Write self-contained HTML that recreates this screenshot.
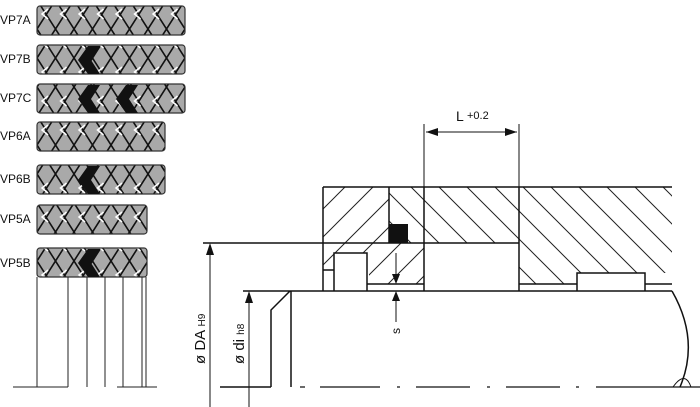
<!DOCTYPE html><html><head><style>body{margin:0;background:#fff}svg{display:block}</style></head><body>
<svg width="700" height="407" viewBox="0 0 700 407" xmlns="http://www.w3.org/2000/svg" font-family="Liberation Sans, sans-serif">
<defs>
<pattern id="hb" patternUnits="userSpaceOnUse" width="28" height="28"><path d="M-7,-7 L35,35 M-7,21 L7,35 M21,-7 L35,7" stroke="#222" stroke-width="1"/></pattern>
<pattern id="hf" patternUnits="userSpaceOnUse" width="28" height="28"><path d="M-7,35 L35,-7 M-7,7 L7,-7 M21,35 L35,21" stroke="#222" stroke-width="1"/></pattern>
<pattern id="sx" patternUnits="userSpaceOnUse" width="18.5" height="29" x="37"><rect width="18.5" height="29" fill="#a9a9a9"/><path d="M0,0 L18.5,29 M18.5,0 L0,29" stroke="#111" stroke-width="1.6"/><path d="M11,9 L5,14 L11,19" stroke="#fff" stroke-width="1.5" fill="none"/></pattern>
<g id="blk"><path d="M2,0 h12 l-9,14 l9,14 h-12 l-10,-14 z" fill="#111"/></g>
</defs>
<g font-size="12" fill="#111">
<text x="0" y="24">VP7A</text><text x="0" y="63">VP7B</text><text x="0" y="102">VP7C</text><text x="0" y="140">VP6A</text><text x="0" y="183">VP6B</text><text x="0" y="223">VP5A</text><text x="0" y="267">VP5B</text>
</g>
<g stroke="#333" stroke-width="1.2">
<rect x="37" y="6" width="148" height="29" rx="3" fill="url(#sx)"/>
<rect x="37" y="45" width="148" height="29" rx="3" fill="url(#sx)"/>
<rect x="37" y="84" width="148" height="29" rx="3" fill="url(#sx)"/>
<rect x="37" y="122" width="128" height="29" rx="3" fill="url(#sx)"/>
<rect x="37" y="165" width="128" height="29" rx="3" fill="url(#sx)"/>
<rect x="37" y="205" width="110" height="29" rx="3" fill="url(#sx)"/>
<rect x="37" y="248" width="110" height="29" rx="3" fill="url(#sx)"/>
</g>
<use href="#blk" x="86" y="46"/><use href="#blk" x="86" y="85"/><use href="#blk" x="124" y="85"/><use href="#blk" x="86" y="166"/><use href="#blk" x="86" y="249"/>
<g stroke="#222" stroke-width="1" fill="none">
<path d="M37,277V387 M68,277V387 M87,277V387 M105,277V387 M123,277V387 M142,277V387 M146,277V387 M13,387H68 M117,387H157"/>
</g>
<path d="M323,187H389V243H323Z M323,243H389V262H369V253H334V270H323Z" fill="url(#hf)"/>
<path d="M389,187H672V273H645V273H577V284H519V243H424V262H389Z" fill="url(#hb)"/>
<path d="M369,243H424V284H369Z" fill="#fff"/>
<path d="M369,243H424V284H369Z" fill="url(#hf)"/>
<rect x="424" y="243" width="95" height="48" fill="#fff"/>
<rect x="577" y="273" width="68" height="18" fill="#fff"/>
<rect x="334" y="253" width="33" height="38" fill="#fff"/>
<g stroke="#111" stroke-width="1.5" fill="none">
<path d="M323,187H672 M323,187V291 M389,187V243 M424,187V291 M519,187V291 M203,243H519"/>
<path d="M290,291H672 M323,270H334 M334,291V253H367V291 M367,284H424 M519,284H577 M577,291V273H645V291 M645,284H672"/>
<path d="M243,291H290 M290,291L271,310V387 M291,291V387 M220,387H271"/>
<path d="M672,291 Q700,340 680,387"/>
<path d="M300,387H305 M320,387H380 M397,387H400 M416,387H470 M487,387H490 M506,387H560 M576,387H579 M596,387H700" stroke-width="1.3"/>
<path d="M210,245V407 M249,293V407 M424,124V187 M519,124V187 M426,132H517" stroke-width="1"/>
<path d="M396,253V282 M396,293V322" stroke-width="1"/>
</g>
<rect x="389" y="224" width="19" height="19" fill="#111"/>
<path d="M673,387 Q685,370 691,387Z" fill="url(#hb)" stroke="#111"/>
<g fill="#111">
<path d="M210,243l-4,12h8z M249,291l-4,12h8z M426,132l12,-4v8z M517,132l-12,-4v8z M396,284l-4,-10h8z M396,291l-4,10h8z"/>
</g>
<text x="456" y="121" font-size="14" fill="#111">L</text><text x="467" y="119" font-size="11" fill="#111">+0.2</text>
<text transform="translate(400,334) rotate(-90)" font-size="12" fill="#111">s</text>
<text transform="translate(205,364) rotate(-90)" font-size="15" fill="#111">ø DA <tspan font-size="10" dy="0">H9</tspan></text>
<text transform="translate(244,364) rotate(-90)" font-size="15" fill="#111">ø di <tspan font-size="10" dy="0">h8</tspan></text>
</svg>
</body></html>
